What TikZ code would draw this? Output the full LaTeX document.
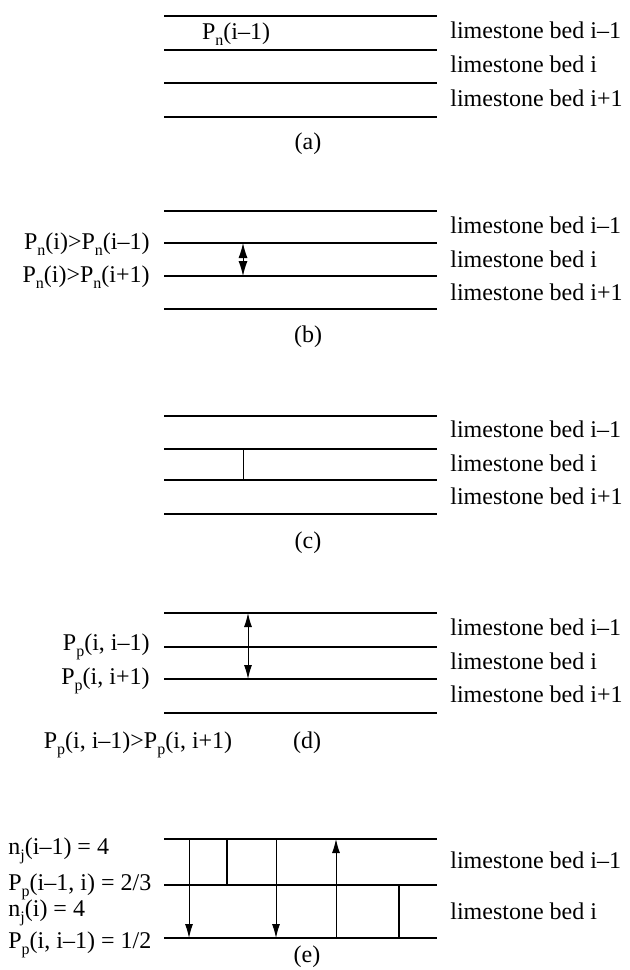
\documentclass[tikz,border=0pt]{standalone}
\usepackage{fontspec}
\setmainfont{Liberation Serif}
\usetikzlibrary{arrows.meta}
\newcommand{\lsub}[1]{\raisebox{-0.55ex}{\footnotesize #1}}

\begin{document}
\begin{tikzpicture}[x=0.5pt, y=-0.5pt, font=\fontsize{12}{14}\selectfont,
  >={Latex[length=7pt, width=4pt]},
  bed/.style={line width=1.3pt},
  joint/.style={line width=0.5pt},
  wall/.style={line width=1pt},
  lbl/.style={anchor=west, inner sep=0pt},
  cond/.style={anchor=east, inner sep=0pt},
  tag/.style={inner sep=0pt}]
  \useasboundingbox (0,0) rectangle (629,970);

  % (a)
  \foreach \y in {16,50,83,117} \draw[bed] (164,\y) -- (437,\y);
  \node[tag] (pa) at (236,34) {P\lsub{n}(i–1)};
  \node[lbl] (a1) at (450,30) {limestone bed i–1};
  \node[lbl] (a2) at (450,64) {limestone bed i};
  \node[lbl] (a3) at (450,98) {limestone bed i+1};
  \node[tag] (ta) at (308,144) {(a)};

  % (b)
  \foreach \y in {211,243,276,309} \draw[bed] (164,\y) -- (437,\y);
  \coordinate (b2) at (243,243);
  \coordinate (b3) at (243,276);
  \draw[joint, {Latex[length=7.5pt, width=4.5pt]}-{Latex[length=7.5pt, width=4.5pt]}] (b2) -- (b3);
  \node[cond] (pb1) at (150,244) {P\lsub{n}(i)>P\lsub{n}(i–1)};
  \node[cond] (pb2) at (150,277) {P\lsub{n}(i)>P\lsub{n}(i+1)};
  \node[lbl] (b1l) at (450,225) {limestone bed i–1};
  \node[lbl] (b2l) at (450,259) {limestone bed i};
  \node[lbl] (b3l) at (450,292) {limestone bed i+1};
  \node[tag] (tb) at (308,337) {(b)};

  % (c)
  \foreach \y in {416,449,480,514} \draw[bed] (164,\y) -- (437,\y);
  \coordinate (c2) at (243,449);
  \coordinate (c3) at (243,480);
  \draw[joint] (c2) -- (c3);
  \node[lbl] (c1l) at (450,429) {limestone bed i–1};
  \node[lbl] (c2l) at (450,463) {limestone bed i};
  \node[lbl] (c3l) at (450,496) {limestone bed i+1};
  \node[tag] (tc) at (308,543) {(c)};

  % (d)
  \foreach \y in {613,647,679,713} \draw[bed] (164,\y) -- (437,\y);
  \coordinate (d1) at (248,613);
  \coordinate (d3) at (248,679);
  \draw[joint, <->] (d1) -- (d3);
  \node[cond] (pd1) at (150,647) {P\lsub{p}(i, i–1)};
  \node[cond] (pd2) at (150,681) {P\lsub{p}(i, i+1)};
  \node[tag] (pd3) at (138,745) {P\lsub{p}(i, i–1)>P\lsub{p}(i, i+1)};
  \node[lbl] (d1l) at (450,627) {limestone bed i–1};
  \node[lbl] (d2l) at (450,661) {limestone bed i};
  \node[lbl] (d3l) at (450,694) {limestone bed i+1};
  \node[tag] (td) at (307,743) {(d)};

  % (e)
  \foreach \y in {839,885,938} \draw[bed] (164,\y) -- (437,\y);
  \coordinate (e1) at (189,839); \coordinate (e2) at (189,938);
  \coordinate (e3) at (227,839); \coordinate (e4) at (227,885);
  \coordinate (e5) at (276,839); \coordinate (e6) at (276,938);
  \coordinate (e7) at (336,938); \coordinate (e8) at (336,839);
  \coordinate (e9) at (399,885); \coordinate (e10) at (399,938);
  \draw[joint, ->] (e1) -- (e2);
  \draw[wall] (e3) -- (e4);
  \draw[joint, ->] (e5) -- (e6);
  \draw[joint, ->] (e7) -- (e8);
  \draw[wall] (e9) -- (e10);
  \node[lbl] (pe1) at (8,851) {n\lsub{j}(i–1) = 4};
  \node[lbl] (pe2) at (8,887) {P\lsub{p}(i–1, i) = 2/3};
  \node[lbl] (pe3) at (8,913) {n\lsub{j}(i) = 4};
  \node[lbl] (pe4) at (8,945) {P\lsub{p}(i, i–1) = 1/2};
  \node[lbl] (e1l) at (450,860) {limestone bed i–1};
  \node[lbl] (e2l) at (450,911) {limestone bed i};
  \node[tag] (te) at (307,957) {(e)};
\end{tikzpicture}
\end{document}
